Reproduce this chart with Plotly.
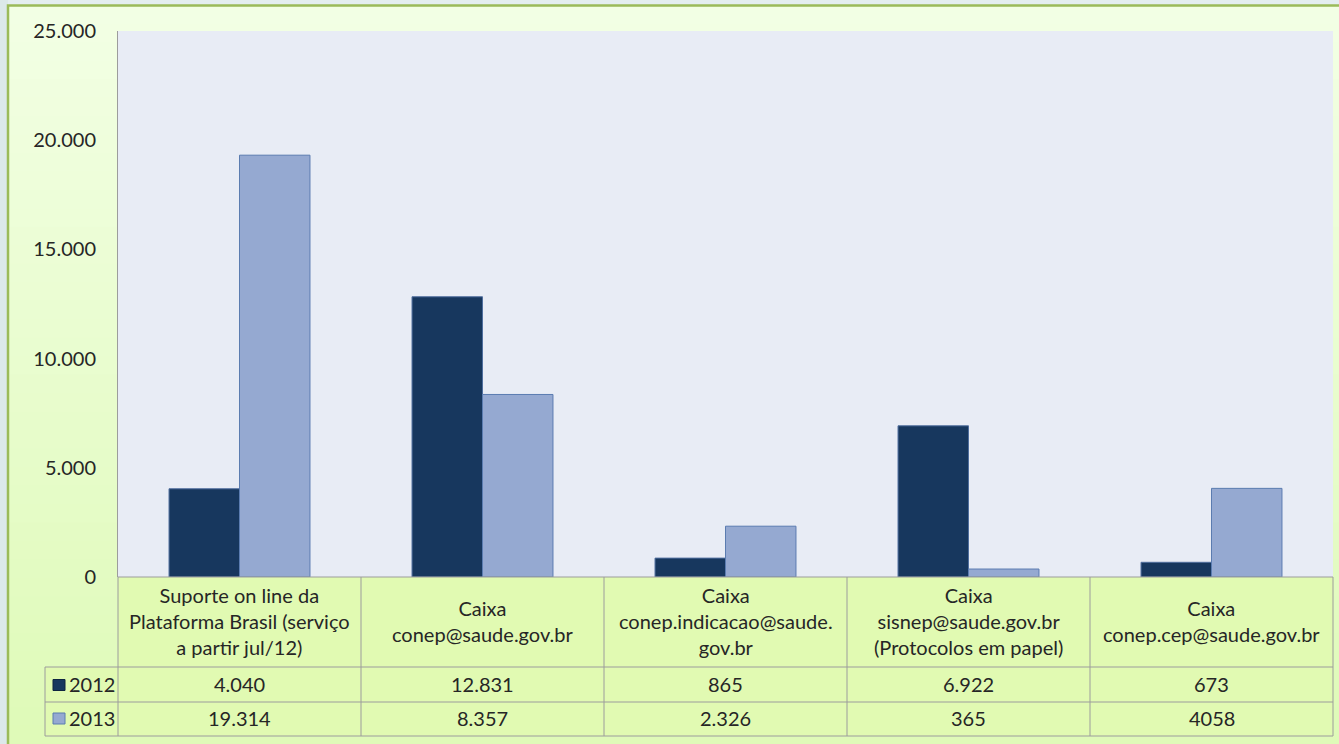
import plotly.graph_objects as go

# ---------------- data ----------------
cat_keys = ["c1", "c2", "c3", "c4", "c5"]
cat_labels = [
    "Suporte on line da<br>Plataforma Brasil (serviço<br>a partir jul/12)",
    "Caixa<br>conep@saude.gov.br",
    "Caixa<br>conep.indicacao@saude.<br>gov.br",
    "Caixa<br>sisnep@saude.gov.br<br>(Protocolos em papel)",
    "Caixa<br>conep.cep@saude.gov.br",
]
series_names = ["2012", "2013"]
values_2012 = [4040, 12831, 865, 6922, 673]
values_2013 = [19314, 8357, 2326, 365, 4058]
table_2012 = ["4.040", "12.831", "865", "6.922", "673"]
table_2013 = ["19.314", "8.357", "2.326", "365", "4058"]
y_ticks = [0, 5000, 10000, 15000, 20000, 25000]

# ---------------- styling ----------------
W, H = 1339, 744
FONT = "Lato"
TXT = "#262626"
C2012 = "#17375E"
C2013 = "#95A9D1"
EDGE = "#4F6E9E"
GRID = "#9C9C9C"
TABLE_FILL = "#E1FAB2"

def px(x):
    return x / W

def py(y):
    return 1 - y / H

plot_l, plot_r, plot_t, plot_b = 118, 1333, 31, 577
hdr_b, row1_b, row2_b = 667, 702, 736
leg_l = 45

fig = go.Figure()
fig.add_trace(go.Bar(x=cat_keys, y=values_2012, name=series_names[0],
                     marker=dict(color=C2012, line=dict(color=EDGE, width=1))))
fig.add_trace(go.Bar(x=cat_keys, y=values_2013, name=series_names[1],
                     marker=dict(color=C2013, line=dict(color="#5B7CB0", width=1))))

shapes = []
# slide background at left edge
shapes.append(dict(type="rect", xref="paper", yref="paper", layer="below",
                   x0=0, x1=px(8), y0=0, y1=1, line=dict(width=0), fillcolor="#DCE9EA"))
# gradient background of chart area (frame)
N = 40
top_c = (242, 255, 228)
bot_c = (223, 250, 184)
y0, y1 = 5, H
for i in range(N):
    t = i / (N - 1)
    c = tuple(round(top_c[k] + (bot_c[k] - top_c[k]) * t) for k in range(3))
    ya = y0 + (y1 - y0) * i / N
    yb = y0 + (y1 - y0) * (i + 1) / N + 1
    shapes.append(dict(type="rect", xref="paper", yref="paper", layer="below",
                       x0=px(8), x1=1.01, y0=py(min(yb, H)), y1=py(ya),
                       line=dict(width=0), fillcolor="rgb(%d,%d,%d)" % c))
# plot area background
shapes.append(dict(type="rect", xref="x domain", yref="y domain", layer="below",
                   x0=0, x1=1, y0=0, y1=1, line=dict(width=0), fillcolor="#E8ECF5"))
# table fill
shapes.append(dict(type="rect", xref="paper", yref="paper", layer="below",
                   x0=px(plot_l), x1=px(plot_r), y0=py(row2_b), y1=py(plot_b),
                   line=dict(width=0), fillcolor=TABLE_FILL))
shapes.append(dict(type="rect", xref="paper", yref="paper", layer="below",
                   x0=px(leg_l), x1=px(plot_l), y0=py(row2_b), y1=py(hdr_b),
                   line=dict(width=0), fillcolor=TABLE_FILL))
# frame border
shapes.append(dict(type="rect", xref="paper", yref="paper", layer="above",
                   x0=px(8), x1=1.02, y0=-0.02, y1=py(5.5),
                   line=dict(color="#9BBB59", width=2.5), fillcolor="rgba(0,0,0,0)"))
# table lines
def hline(y, xa, xb):
    shapes.append(dict(type="line", xref="paper", yref="paper", x0=px(xa), x1=px(xb),
                       y0=py(y), y1=py(y), line=dict(color=GRID, width=1)))
def vline_paper(x, ya, yb):
    shapes.append(dict(type="line", xref="paper", yref="paper", x0=px(x), x1=px(x),
                       y0=py(ya), y1=py(yb), line=dict(color=GRID, width=1)))

hline(plot_b, plot_l, plot_r)
for yy in (hdr_b, row1_b, row2_b):
    hline(yy, leg_l, plot_r)
vline_paper(leg_l, hdr_b, row2_b)
vline_paper(plot_l, plot_b, row2_b)
vline_paper(plot_r, plot_b, row2_b)
for i in range(len(cat_keys) - 1):
    shapes.append(dict(type="line", xref="x", yref="paper", x0=i + 0.5, x1=i + 0.5,
                       y0=py(plot_b), y1=py(row2_b), line=dict(color=GRID, width=1)))
# legend keys in table
for (yc, col, edge) in ((685, C2012, "#0F2540"), (718.5, C2013, "#5B7CB0")):
    shapes.append(dict(type="rect", xref="paper", yref="paper",
                       x0=px(53), x1=px(65), y0=py(yc + 5.5), y1=py(yc - 5.5),
                       line=dict(color=edge, width=1), fillcolor=col))

annotations = []
for i, lab in enumerate(cat_labels):
    annotations.append(dict(x=cat_keys[i], xref="x", y=py((plot_b + hdr_b) / 2 - 1), yref="paper",
                            text=lab, showarrow=False, xanchor="center", yanchor="middle",
                            align="center", font=dict(family=FONT, size=20, color=TXT)))
for row_vals, yc in ((table_2012, (hdr_b + row1_b) / 2 - 1), (table_2013, (row1_b + row2_b) / 2 - 1)):
    for i, v in enumerate(row_vals):
        annotations.append(dict(x=cat_keys[i], xref="x", y=py(yc), yref="paper",
                                text=v, showarrow=False, xanchor="center", yanchor="middle",
                                font=dict(family=FONT, size=20, color=TXT)))
for name, yc in zip(series_names, ((hdr_b + row1_b) / 2 - 1, (row1_b + row2_b) / 2 - 1)):
    annotations.append(dict(x=px(67), xref="paper", y=py(yc), yref="paper", text=name,
                            showarrow=False, xanchor="left", yanchor="middle",
                            font=dict(family=FONT, size=20, color=TXT)))

fig.update_layout(
    width=W, height=H,
    margin=dict(l=0, r=0, t=0, b=0, pad=0, autoexpand=False),
    paper_bgcolor="#E4EEF0",
    plot_bgcolor="rgba(0,0,0,0)",
    separators=",.",
    showlegend=False,
    barmode="group", bargap=0.42, bargroupgap=0,
    font=dict(family=FONT, size=20, color=TXT),
    xaxis=dict(domain=[px(plot_l), px(plot_r)], range=[-0.5, 4.5], showticklabels=False,
               showgrid=False, zeroline=False, showline=False, ticks="", automargin=False),
    yaxis=dict(domain=[py(plot_b), py(plot_t)], range=[0, 25000], tickvals=y_ticks,
               tickformat=",d", showgrid=False, zeroline=False, showline=True,
               linecolor=GRID, linewidth=1, ticks="", ticklabelstandoff=17, automargin=False,
               tickfont=dict(family=FONT, size=20, color=TXT)),
    shapes=shapes,
    annotations=annotations,
)

fig.write_html("out.html",
               config={"displayModeBar": False},
               post_script="document.body.style.margin='0';document.body.style.padding='0';"
                           "document.body.style.overflow='hidden';")
